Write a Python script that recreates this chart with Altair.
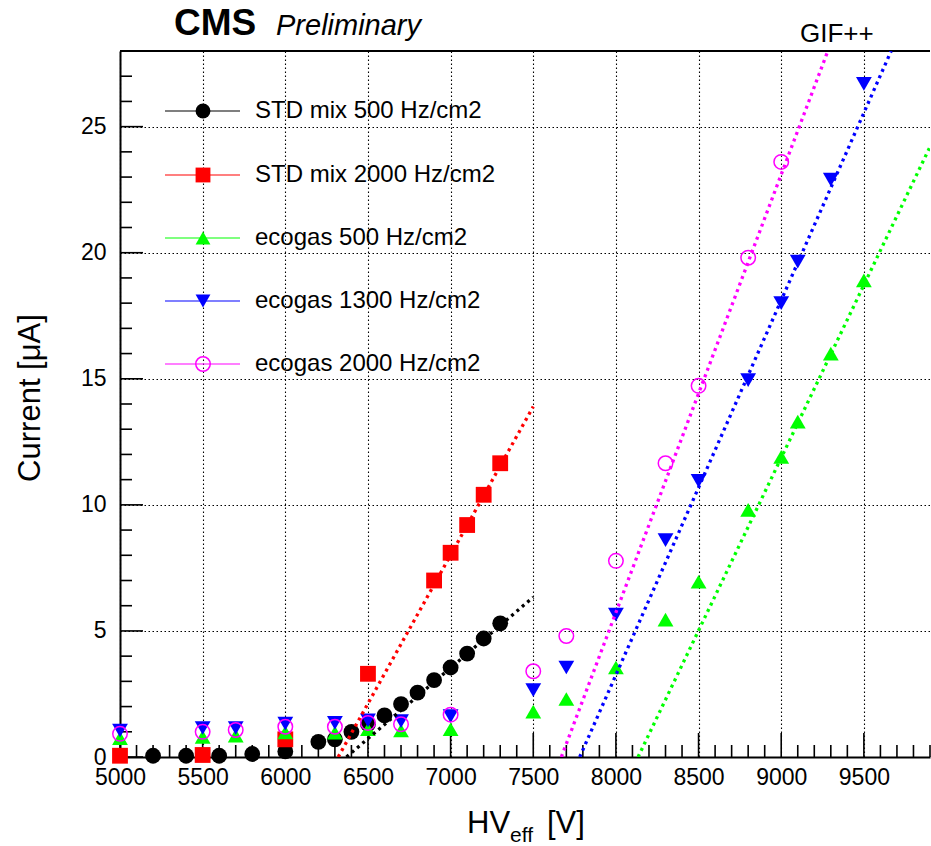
import altair as alt
import pandas as pd

# ---------------- data ----------------
std500_hv = [5200, 5400, 5600, 5800, 6000, 6200, 6300, 6400, 6500, 6600, 6700, 6800, 6900, 7000, 7100, 7200, 7300]
std500_i = [0.05, 0.05, 0.05, 0.12, 0.22, 0.6, 0.7, 1.0, 1.3, 1.65, 2.1, 2.55, 3.05, 3.55, 4.1, 4.7, 5.3]

std2000_hv = [5000, 5500, 6000, 6500, 6900, 7000, 7100, 7200, 7300]
std2000_i = [0.05, 0.08, 0.7, 3.3, 7.0, 8.1, 9.2, 10.4, 11.65]

eco500_hv = [5000, 5500, 5700, 6000, 6300, 6500, 6700, 7000, 7500, 7700, 8000, 8300, 8500, 8800, 9000, 9100, 9300, 9500]
eco500_i = [0.75, 0.8, 0.85, 0.98, 0.97, 1.1, 1.05, 1.1, 1.8, 2.3, 3.55, 5.45, 6.95, 9.8, 11.9, 13.3, 16.0, 18.9]

eco1300_hv = [5000, 5500, 5700, 6000, 6300, 6500, 6700, 7000, 7500, 7700, 8000, 8300, 8500, 8800, 9000, 9100, 9300, 9500]
eco1300_i = [1.05, 1.15, 1.15, 1.32, 1.35, 1.45, 1.42, 1.62, 2.65, 3.55, 5.65, 8.6, 10.95, 14.95, 18.0, 19.65, 22.9, 26.7]

eco2000_hv = [5000, 5500, 5700, 6000, 6300, 6500, 6700, 7000, 7500, 7700, 8000, 8300, 8500, 8800, 9000]
eco2000_i = [0.92, 1.0, 1.07, 1.2, 1.2, 1.35, 1.3, 1.68, 3.4, 4.8, 7.78, 11.65, 14.72, 19.8, 23.6]

# linear fit segments (start, end)
fit_std500_hv = [6370, 7500]
fit_std500_i = [0.0, 6.34]
fit_std2000_hv = [6320, 7500]
fit_std2000_i = [0.0, 13.9]
fit_eco500_hv = [8134, 9900]
fit_eco500_i = [0.0, 24.2]
fit_eco1300_hv = [7781, 9665]
fit_eco1300_i = [0.0, 28.0]
fit_eco2000_hv = [7670, 9282]
fit_eco2000_i = [0.0, 28.0]

series_labels = ["STD mix 500 Hz/cm2", "STD mix 2000 Hz/cm2", "ecogas 500 Hz/cm2",
                 "ecogas 1300 Hz/cm2", " ecogas 2000 Hz/cm2"]
series_colors = ["#000000", "#ff0000", "#00ff00", "#0000ff", "#ff00ff"]
series_shapes = ["circle", "square", "triangle-up", "triangle-down", "circle"]
series_filled = [True, True, True, True, False]

x_major = [5000, 5500, 6000, 6500, 7000, 7500, 8000, 8500, 9000, 9500]
x_minor = [v for v in range(5000, 9901, 100) if v % 500 != 0]
y_major = [0, 5, 10, 15, 20, 25]
y_minor = [v for v in range(0, 29) if v % 5 != 0]

# ---------------- layout ----------------
W, H = 810, 706
FONT = "Liberation Sans"
xs = alt.Scale(domain=[5000, 9900], nice=False, zero=False)
ys = alt.Scale(domain=[0, 28], nice=False, zero=False)

x_axis = alt.Axis(values=x_major, title=None, grid=True, gridDash=[1.5, 2.5], gridColor="#000",
                  gridOpacity=1, gridWidth=1.1, ticks=False, domain=True, domainColor="#000",
                  domainWidth=2, labelFont=FONT, labelFontSize=23, labelColor="#000",
                  labelPadding=9, labelFlush=False, labelOverlap=False, format="d")
y_axis = alt.Axis(values=y_major, title=None, grid=True, gridDash=[1.5, 2.5], gridColor="#000",
                  gridOpacity=1, gridWidth=1.1, ticks=False, domain=True, domainColor="#000",
                  domainWidth=2, labelFont=FONT, labelFontSize=23, labelColor="#000",
                  labelPadding=14, labelFlush=False, labelOverlap=False)


def X(field):
    return alt.X(field, scale=xs, axis=x_axis)


def Y(field):
    return alt.Y(field, scale=ys, axis=y_axis)


layers = []

# axes + grid carried by an invisible layer
axis_df = pd.DataFrame({"hv": [5000, 9900], "i": [0, 28]})
layers.append(alt.Chart(axis_df).mark_point(opacity=0).encode(x=X("hv:Q"), y=Y("i:Q")))


# inward ticks
def xticks(vals, length):
    return alt.Chart(pd.DataFrame({"hv": vals})).mark_rule(color="#000", strokeWidth=1.6).encode(
        x=X("hv:Q"), y=alt.value(H), y2=alt.value(H - length))


def yticks(vals, length):
    return alt.Chart(pd.DataFrame({"i": vals})).mark_rule(color="#000", strokeWidth=1.6).encode(
        y=Y("i:Q"), x=alt.value(0), x2=alt.value(length))


layers += [xticks(x_major, 24), xticks(x_minor, 12), yticks(y_major, 23), yticks(y_minor, 12)]

# top frame line
layers.append(alt.Chart(pd.DataFrame({"a": [0]})).mark_rule(color="#000", strokeWidth=2).encode(
    x=alt.value(0), x2=alt.value(W), y=alt.value(0)))

# data points
pts = [(std500_hv, std500_i), (std2000_hv, std2000_i), (eco500_hv, eco500_i),
       (eco1300_hv, eco1300_i), (eco2000_hv, eco2000_i)]
fits = [(fit_std500_hv, fit_std500_i), (fit_std2000_hv, fit_std2000_i), (fit_eco500_hv, fit_eco500_i),
        (fit_eco1300_hv, fit_eco1300_i), (fit_eco2000_hv, fit_eco2000_i)]

for k, (hv, cur) in enumerate(pts):
    df = pd.DataFrame({"hv": hv, "i": cur})
    if series_filled[k]:
        mk = alt.Chart(df).mark_point(shape=series_shapes[k], filled=True, fill=series_colors[k],
                                      size=250, opacity=1, strokeWidth=0)
    else:
        mk = alt.Chart(df).mark_point(shape=series_shapes[k], filled=False, color=series_colors[k],
                                      size=210, opacity=1, strokeWidth=1.5)
    layers.append(mk.encode(x=X("hv:Q"), y=Y("i:Q")))

for k, (hv, cur) in enumerate(fits):
    df = pd.DataFrame({"hv": hv, "i": cur})
    layers.append(alt.Chart(df).mark_line(color=series_colors[k], strokeWidth=3.3,
                                          strokeDash=[3, 4], clip=True).encode(
        x=X("hv:Q"), y=Y("i:Q")))

# legend (ROOT style, transparent box)
row_y = [60, 124, 187, 250, 313]
for k, lab in enumerate(series_labels):
    ldf = pd.DataFrame({"label": [lab]})
    layers.append(alt.Chart(ldf).mark_rule(color=series_colors[k], strokeWidth=1.2).encode(
        x=alt.value(45), x2=alt.value(120), y=alt.value(row_y[k])))
    if series_filled[k]:
        sym = alt.Chart(ldf).mark_point(shape=series_shapes[k], filled=True, fill=series_colors[k],
                                        size=220, opacity=1, strokeWidth=0)
    else:
        sym = alt.Chart(ldf).mark_point(shape=series_shapes[k], filled=False, color=series_colors[k],
                                        size=210, opacity=1, strokeWidth=1.5)
    layers.append(sym.encode(x=alt.value(83), y=alt.value(row_y[k])))
    layers.append(alt.Chart(ldf).mark_text(align="left", baseline="middle", font=FONT, fontSize=24,
                                           color="#000").encode(
        text="label:N", x=alt.value(135), y=alt.value(row_y[k])))


# texts: CMS Preliminary, GIF++, axis titles
def txt(s, x, y, size, weight="normal", style="normal", align="left", baseline="alphabetic", angle=0):
    return alt.Chart(pd.DataFrame({"s": [s]})).mark_text(
        align=align, baseline=baseline, font=FONT, fontSize=size, fontWeight=weight,
        fontStyle=style, color="#000", angle=angle).encode(
        text="s:N", x=alt.value(x), y=alt.value(y))


layers.append(txt("CMS", 54, -16, 37, weight="bold"))
layers.append(txt("Preliminary", 156, -16, 29, style="italic"))
layers.append(txt("GIF++", 680, -9, 26))
layers.append(txt("Current [\u03bcA]", -89, 347, 31, align="center", baseline="middle", angle=270))
layers.append(txt("HV", 347, 782, 31))
layers.append(txt("eff", 390, 791, 21))
layers.append(txt("[V]", 427, 782, 31))

chart = alt.layer(*layers).properties(
    width=W, height=H,
    padding={"left": 120, "top": 51, "right": 1, "bottom": 89},
    autosize=alt.AutoSizeParams(type="none"),
    background="white",
).configure_view(stroke=None)

chart.save("out.html", embed_options={"renderer": "svg", "actions": False})
